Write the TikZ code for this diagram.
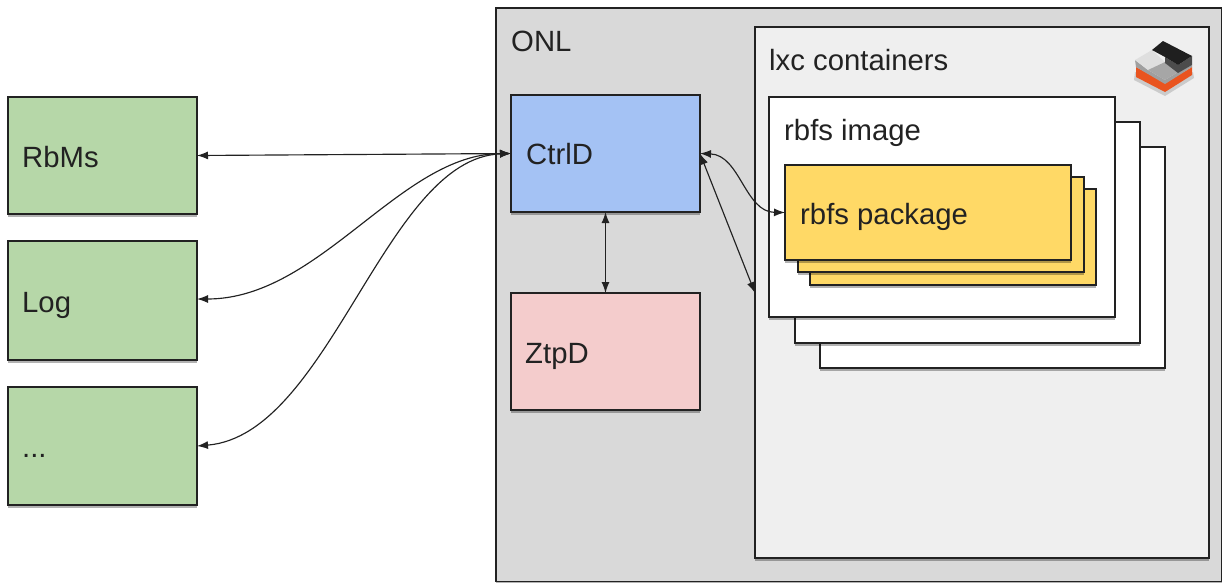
\documentclass[tikz,border=0pt]{standalone}
\usepackage{fontspec}
\setmainfont{Liberation Sans}
\usetikzlibrary{arrows.meta,shadows}
\definecolor{cgreen}{HTML}{B6D7A8}
\definecolor{cblue}{HTML}{A4C2F4}
\definecolor{cpink}{HTML}{F4CCCC}
\definecolor{cyellow}{HTML}{FFD966}
\definecolor{conl}{HTML}{D9D9D9}
\definecolor{clxc}{HTML}{EFEFEF}
\definecolor{cink}{HTML}{222222}
\definecolor{corange}{HTML}{E9541F}
\tikzset{
  x=1pt,y=-1pt,
  shade box/.style={draw=cink,line width=1.2pt,rectangle,anchor=north west,inner sep=0pt,outer sep=0pt,
    drop shadow={shadow xshift=0pt,shadow yshift=-3pt,opacity=.3,fill=black}},
  caption/.style={anchor=west,inner sep=0pt,font=\fontsize{29.3}{32}\selectfont,text=cink},
  link/.style={draw=cink,line width=1.15pt,{Latex[length=11pt,width=8pt]}-{Latex[length=11pt,width=8pt]}},
}
\begin{document}
\begin{tikzpicture}
\useasboundingbox (0,0) rectangle (1222,582);
\fill[white] (0,0) rectangle (1222,582);
% containers
\node[shade box,fill=conl,minimum width=725.5pt,minimum height=573.5pt] (onl) at (496,8) {};
\node[caption] (onlt) at (511,41) {ONL};
\node[shade box,fill=clxc,minimum width=454pt,minimum height=531pt] (lxc) at (755,27) {};
\node[caption] (lxct) at (769,60) {lxc containers};
% rbfs image stack
\node[shade box,fill=white,minimum width=345pt,minimum height=221pt] (im3) at (820,147) {};
\node[shade box,fill=white,minimum width=345pt,minimum height=221pt] (im2) at (795,122) {};
\node[shade box,fill=white,minimum width=346pt,minimum height=220pt] (im1) at (769,97) {};
\node[caption] (imt) at (784,132.5) {rbfs image};
% package stack
\node[shade box,fill=cyellow,minimum width=286pt,minimum height=96pt] (p3) at (810,189) {};
\node[shade box,fill=cyellow,minimum width=286pt,minimum height=95pt] (p2) at (798,177) {};
\node[shade box,fill=cyellow,minimum width=286pt,minimum height=95pt] (p1) at (785,165) {};
\node[caption] (pt) at (800,216.5) {rbfs package};
% left column
\node[shade box,fill=cgreen,minimum width=189pt,minimum height=117pt] (rbms) at (8,97) {};
\node[caption] (rbmst) at (22,157) {RbMs};
\node[shade box,fill=cgreen,minimum width=189pt,minimum height=119pt] (log) at (8,241) {};
\node[caption] (logt) at (22,305) {Log};
\node[shade box,fill=cgreen,minimum width=189pt,minimum height=118pt] (etc) at (8,387) {};
\node[caption] (etct) at (22,456) {...};
% daemons
\node[shade box,fill=cblue,minimum width=189pt,minimum height=117pt] (ctrld) at (511,95) {};
\node[caption] (ctrldt) at (526,154.5) {CtrlD};
\node[shade box,fill=cpink,minimum width=189pt,minimum height=117pt] (ztpd) at (511,293) {};
\node[caption] (ztpdt) at (525,356) {ZtpD};
% connectors
\coordinate (imgend) at (755,293);
\draw[link] (rbms.east) -- (ctrld.west);
\draw[link] ([yshift=1.5pt]log.east) .. controls (320,299) and (400,154) .. (ctrld.west);
\draw[link] (etc.east) .. controls (330,435) and (385,158) .. (ctrld.west);
\draw[link] (ctrld.east) .. controls (740,155) and (745,212) .. (p1.west);
\draw[link] (ctrld.east) -- (imgend);
\draw[link] (ctrld.south) -- (ztpd.north);
% lxc logo
\fill[black,opacity=.15] (1135,72) -- (1165,90) -- (1193,72) -- (1194,78) -- (1165,96) -- (1134,80) -- cycle;
\fill[corange] (1136,67) -- (1165,83) -- (1192,67) -- (1192,75) -- (1165,92) -- (1136,77) -- cycle;
\fill[gray!75] (1135,60) -- (1148,70) -- (1165,80) -- (1178,72) -- (1192,65) -- (1192,67) -- (1165,84) -- (1136,67) -- cycle;
\fill[gray!25] (1135,60) -- (1152,50) -- (1165,62) -- (1148,70) -- cycle;
\fill[gray!70] (1148,70) -- (1165,62) -- (1178,72) -- (1165,80) -- cycle;
\fill[black!70] (1165,57) -- (1178,65) -- (1192,56) -- (1192,65) -- (1178,73) -- (1165,63) -- cycle;
\fill[black!88] (1152,50) -- (1163,41) -- (1192,56) -- (1178,65) -- (1165,57) -- cycle;
\end{tikzpicture}
\end{document}
